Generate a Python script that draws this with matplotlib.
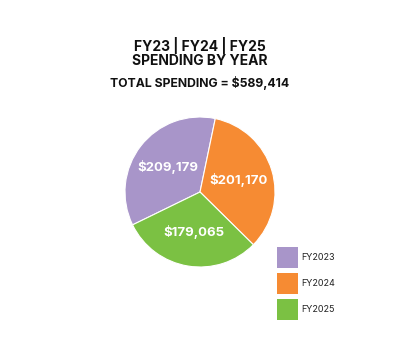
import matplotlib
matplotlib.use("Agg")
import matplotlib.pyplot as plt
from matplotlib.patches import Rectangle

plt.rcParams['font.family'] = ['Inter', 'DejaVu Sans']

categories = ["FY2023", "FY2024", "FY2025"]
values = [209179, 201170, 179065]
colors = ["#A895C9", "#F68B33", "#7BC143"]
total = sum(values)

W, H = 400, 356
fig = plt.figure(figsize=(W / 100, H / 100), dpi=100)
fig.patch.set_facecolor("white")

cx, cy, r = 200, 192, 75
ax = fig.add_axes([(cx - r) / W, (H - cy - r) / H, 2 * r / W, 2 * r / H])
wedges, texts = ax.pie(values, colors=colors, startangle=206, counterclock=False,
                       labels=[f"${v:,}" for v in values], labeldistance=0.54,
                       wedgeprops=dict(edgecolor="white", linewidth=0.8),
                       textprops=dict(color="white", fontsize=9.5, fontweight="bold"))
for t in texts:
    t.set_ha("center")
    t.set_va("center")
ax.set_xlim(-1, 1)
ax.set_ylim(-1, 1)
ax.set_aspect("equal")

fig.text(200 / W, 1 - 45 / H, "FY23 | FY24 | FY25", ha="center", va="center",
         fontsize=10, fontweight="bold", color="#111111")
fig.text(200 / W, 1 - 61 / H, "SPENDING BY YEAR", ha="center", va="center",
         fontsize=10, fontweight="bold", color="#111111")
fig.text(200 / W, 1 - 82.5 / H, f"TOTAL SPENDING = ${total:,}", ha="center", va="center",
         fontsize=8.8, fontweight="bold", color="#111111")

# legend drawn manually
lx, ly, size, pitch = 277, 246.5, 21, 26
for i, (cat, col) in enumerate(zip(categories, colors)):
    top = ly + i * pitch
    fig.add_artist(Rectangle((lx / W, 1 - (top + size) / H), size / W, size / H,
                             transform=fig.transFigure, facecolor=col, edgecolor="none"))
    fig.text((lx + size + 3.5) / W, 1 - (top + size / 2 + 1) / H, cat, ha="left", va="center",
             fontsize=6.5, color="#222222")

fig.savefig("out.png", dpi=100)
